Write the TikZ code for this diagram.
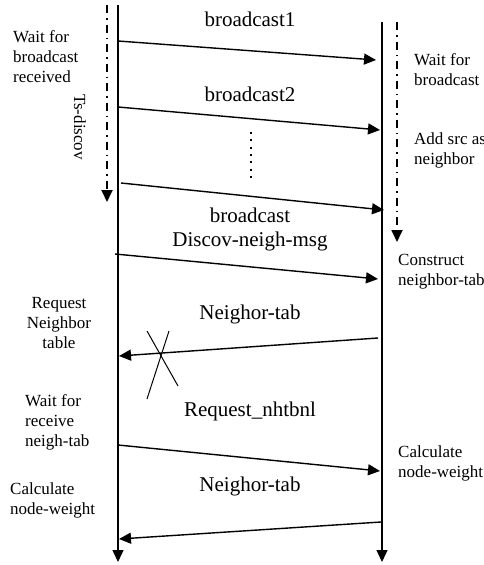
\documentclass[tikz,border=0pt]{standalone}
\usepackage{fontspec}
\setmainfont{Liberation Serif}
\usetikzlibrary{arrows.meta}
\begin{document}
\begin{tikzpicture}[x=1pt,y=-1pt,
  tip/.style={-{Triangle[length=12pt,width=11pt]}},
  life/.style={line width=1.4pt,tip},
  msg/.style={line width=1.4pt,tip},
  timer/.style={line width=1.8pt,dash pattern=on 8pt off 5pt on 1.5pt off 5pt,tip},
  big/.style={font=\fontsize{21}{24}\selectfont,inner sep=0pt},
  note/.style={font=\fontsize{17}{20}\selectfont,inner sep=0pt,align=left},
  notec/.style={font=\fontsize{17}{20}\selectfont,inner sep=0pt,align=center},
  ]
\useasboundingbox (0,0) rectangle (484,565);
\clip (0,0) rectangle (484,565);

% lifelines
\coordinate (Atop) at (118,5);
\coordinate (Abot) at (118,562);
\coordinate (Btop) at (382,22);
\coordinate (Bbot) at (382,562);
\draw[life] (Atop) -- (Abot);
\draw[life] (Btop) -- (Bbot);

% discovery timers
\coordinate (TAtop) at (107,5);
\coordinate (TAbot) at (107,202);
\coordinate (TBtop) at (397,22);
\coordinate (TBbot) at (397,242);
\draw[timer] (TAtop) -- (TAbot);
\draw[timer] (TBtop) -- (TBbot);
\node[note,rotate=-90] (ts) at (80,127) {Ts-discov};

% message endpoints
\coordinate (m1s) at (118,41);  \coordinate (m1e) at (376,60);
\coordinate (m2s) at (118,107); \coordinate (m2e) at (380,130);
\coordinate (m3s) at (121,183); \coordinate (m3e) at (384,210);
\coordinate (m4s) at (115,254); \coordinate (m4e) at (378,279);
\coordinate (m5s) at (378,338); \coordinate (m5e) at (119,356);
\coordinate (m6s) at (118,445); \coordinate (m6e) at (380,471);
\coordinate (m7s) at (381,522); \coordinate (m7e) at (119,539);

\draw[msg] (m1s) -- (m1e);
\draw[msg] (m2s) -- (m2e);
\draw[msg] (m3s) -- (m3e);
\draw[msg] (m4s) -- (m4e);
\draw[msg] (m5s) -- (m5e);
\draw[msg] (m6s) -- (m6e);
\draw[msg] (m7s) -- (m7e);

% ellipsis between broadcasts
\coordinate (d1) at (251,132);
\coordinate (d2) at (251,178);
\draw[line width=2pt,dash pattern=on 2pt off 5.3pt] (d1) -- (d2);

% lost reply
\coordinate (x1) at (147,331); \coordinate (x2) at (178,386);
\coordinate (x3) at (169,331); \coordinate (x4) at (147,399);
\draw[line width=1pt] (x1) -- (x2);
\draw[line width=1pt] (x3) -- (x4);

% message labels
\node[big] (l1) at (250,19) {broadcast1};
\node[big] (l2) at (250,94) {broadcast2};
\node[big,align=center] (l3) at (250,229) {broadcast\\Discov-neigh-msg};
\node[big] (l5) at (250,314) {Neighor-tab};
\node[big] (l6) at (250,411) {Request\_nhtbnl};
\node[big] (l7) at (250,486) {Neighor-tab};

% left side notes
\node[note,anchor=west] (n1) at (13,57) {Wait for\\broadcast\\received};
\node[notec] (n2) at (59,323) {Request\\Neighbor\\table};
\node[note,anchor=west] (n3) at (25,422) {Wait for\\receive\\neigh-tab};
\node[note,anchor=west] (n4) at (10,500) {Calculate\\node-weight};

% right side notes
\node[note,anchor=west] (r1) at (414,70) {Wait for\\broadcast};
\node[note,anchor=west] (r2) at (414,150) {Add src as\\neighbor};
\node[note,anchor=west] (r3) at (398,272) {Construct\\neighbor-tab};
\node[note,anchor=west] (r4) at (398,463) {Calculate\\node-weight};
\end{tikzpicture}
\end{document}
